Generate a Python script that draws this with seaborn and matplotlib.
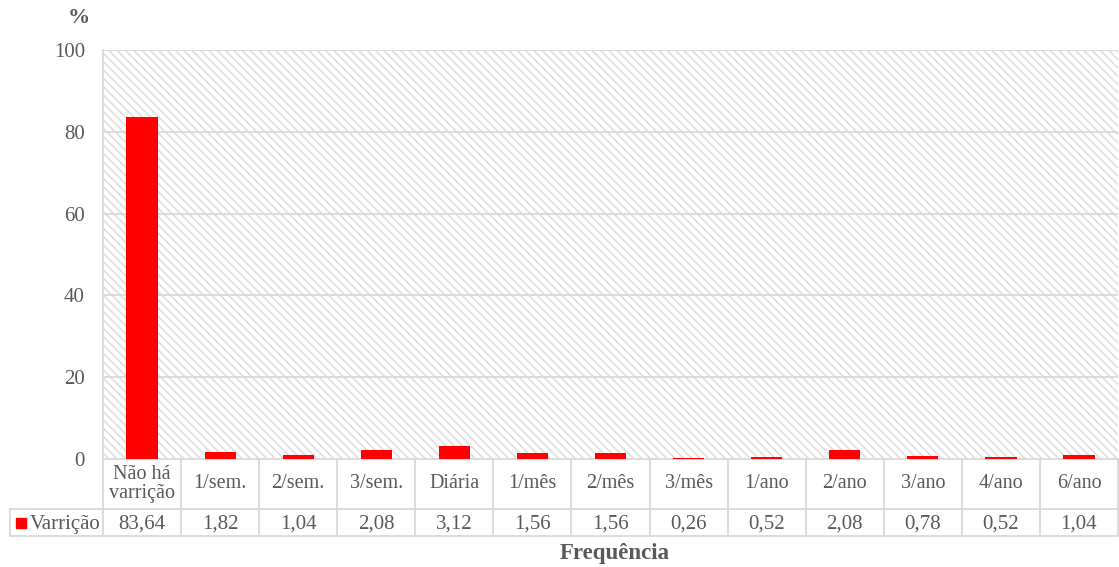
"""
Frequência de varrição - bar chart with data table below (Excel style)
"""

import pandas as pd
import seaborn as sns
from matplotlib import pyplot as plt
from matplotlib.patches import Rectangle
from matplotlib.transforms import blended_transform_factory

# data
categorias = ["Não há\nvarrição", "1/sem.", "2/sem.", "3/sem.", "Diária", "1/mês",
              "2/mês", "3/mês", "1/ano", "2/ano", "3/ano", "4/ano", "6/ano"]
valores = [83.64, 1.82, 1.04, 2.08, 3.12, 1.56, 1.56, 0.26, 0.52, 2.08, 0.78, 0.52, 1.04]
serie = "Varrição"
y_ticks = [0, 20, 40, 60, 80, 100]

df = pd.DataFrame({"cat": categorias, "val": valores})

sns.set_style("white")
plt.rcParams["font.family"] = ["Liberation Serif", "DejaVu Serif"]
plt.rcParams["hatch.linewidth"] = 1.2

grey_txt = "#595959"
grid_col = "#d9d9d9"
red = "#ff0000"

fig = plt.figure(figsize=(11.19, 5.67), dpi=100)
ax = fig.add_axes([103 / 1119, 1 - 459 / 567, 1015 / 1119, 409 / 567])

# hatched background
ax.add_patch(Rectangle((0, 0), 1, 1, transform=ax.transAxes, fill=False,
                       hatch="\\\\\\\\", edgecolor="#dedede", lw=0, zorder=0))

sns.barplot(data=df, x="cat", y="val", color=red, width=0.4, ax=ax,
            saturation=1, linewidth=0, zorder=3)

ax.set_ylim(0, 100)
ax.set_xlim(-0.5, len(categorias) - 0.5)
ax.set_yticks(y_ticks)
ax.set_yticklabels([str(t) for t in y_ticks], fontsize=15, color=grey_txt)
ax.tick_params(axis="y", length=0, pad=13)
ax.set_xticks([])
ax.set_xlabel("")
ax.set_ylabel("")
for t in y_ticks[1:]:
    ax.axhline(t, color=grid_col, lw=1.3, zorder=1)
for s in ["top", "right", "bottom"]:
    ax.spines[s].set_visible(False)
ax.spines["left"].set_color(grid_col)
ax.spines["left"].set_linewidth(1.3)

# data table under the axis
tr = blended_transform_factory(ax.transData, ax.transAxes)
h1 = -50 / 409
h2 = -77 / 409
line_kw = dict(color=grid_col, lw=1.3, clip_on=False, zorder=2)
n = len(categorias)
ax.plot([-0.5, n - 0.5], [0, 0], transform=tr, **line_kw)
ax.plot([-0.5, n - 0.5], [h1, h1], transform=tr, **line_kw)
for i in range(n + 1):
    ax.plot([i - 0.5, i - 0.5], [0, h2], transform=tr, **line_kw)
for i, (c, v) in enumerate(zip(categorias, valores)):
    ax.text(i, h1 / 2, c, transform=tr, ha="center", va="center",
            fontsize=14.5, color=grey_txt, linespacing=1.0)
    ax.text(i, (h1 + h2) / 2 - 0.004, f"{v:.2f}".replace(".", ","), transform=tr,
            ha="center", va="center", fontsize=15, color=grey_txt)

# legend cell
x0 = (10 - 103) / 1015
ax.plot([x0, 1], [h2, h2], transform=ax.transAxes, **line_kw)
ax.plot([x0, 0], [h1, h1], transform=ax.transAxes, **line_kw)
ax.plot([x0, x0], [h1, h2], transform=ax.transAxes, **line_kw)
ax.add_patch(Rectangle((16 / 1119, 1 - 528 / 567), 10 / 1119, 10 / 567,
                       transform=fig.transFigure, color=red, clip_on=False))
fig.text(30 / 1119, 1 - 524 / 567, serie, ha="left", va="center",
         fontsize=15, color=grey_txt)

# axis titles
fig.text(79 / 1119, 1 - 18 / 567, "%", ha="center", va="center",
         fontsize=16, fontweight="bold", color=grey_txt)
fig.text(615 / 1119, 1 - 553 / 567, "Frequência", ha="center", va="center",
         fontsize=16.5, fontweight="bold", color=grey_txt)

plt.savefig("out.png", dpi=100)
